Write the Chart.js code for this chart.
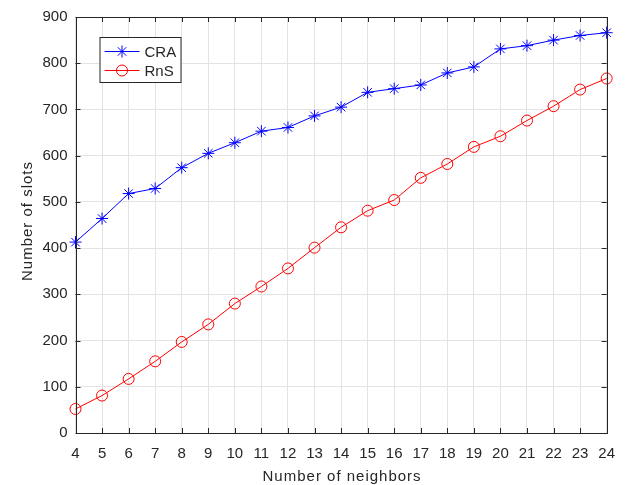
<!DOCTYPE html>
<html>
<head>
<meta charset="utf-8">
<script src="https://cdn.jsdelivr.net/npm/chart.js@4/dist/chart.umd.min.js"></script>
<style>
  html, body { margin: 0; padding: 0; background: #fff; }
  #wrap { width: 627px; height: 485px; }
</style>
</head>
<body>
<div id="wrap"><canvas id="slotsChart" width="627" height="485"></canvas></div>
<script>
// number of neighbors
const neighbors = [4, 5, 6, 7, 8, 9, 10, 11, 12, 13, 14, 15, 16, 17, 18, 19, 20, 21, 22, 23, 24];
// slots used by each scheme
const craSlots = [413, 464, 518, 529, 574, 605, 628, 653, 661, 686, 705, 737, 745, 753, 779, 792, 831, 838, 850, 860, 866];
const rnsSlots = [52, 81, 117, 155, 197, 235, 280, 317, 356, 401, 445, 481, 504, 552, 582, 619, 642, 676, 707, 743, 767];
const yTicks = [0, 100, 200, 300, 400, 500, 600, 700, 800, 900];
const xTitle = 'Number of neighbors';
const yTitle = 'Number of slots';

const axisColor = '#262626';
const fontFamily = '"Liberation Sans", Arial, Helvetica, sans-serif';

// box around the plot with inward tick marks on all four sides
const boxPlugin = {
    id: 'boxAxes',
    afterDatasetsDraw(chart) {
        const { ctx, chartArea: a, scales } = chart;
        const len = 5;
        ctx.save();
        ctx.strokeStyle = axisColor;
        ctx.lineWidth = 1;
        ctx.beginPath();
        scales.x.ticks.forEach((t, i) => {
            const px = Math.round(scales.x.getPixelForTick(i)) + 0.5;
            ctx.moveTo(px, a.bottom); ctx.lineTo(px, a.bottom - len);
            ctx.moveTo(px, a.top); ctx.lineTo(px, a.top + len);
        });
        scales.y.ticks.forEach(t => {
            const py = Math.round(scales.y.getPixelForValue(t.value)) + 0.5;
            ctx.moveTo(a.left, py); ctx.lineTo(a.left + len, py);
            ctx.moveTo(a.right, py); ctx.lineTo(a.right - len, py);
        });
        ctx.stroke();
        ctx.strokeRect(Math.round(a.left) + 0.5, Math.round(a.top) + 0.5,
            Math.round(a.right - a.left), Math.round(a.bottom - a.top));
        ctx.restore();
    }
};

// axis titles, drawn by hand so they can get a little letter spacing
const titlesPlugin = {
    id: 'axisTitles',
    afterDraw(chart) {
        const { ctx, chartArea: a } = chart;
        ctx.save();
        ctx.fillStyle = axisColor;
        ctx.font = '15px ' + fontFamily;
        ctx.letterSpacing = '1px';
        ctx.textAlign = 'center';
        ctx.textBaseline = 'alphabetic';
        ctx.fillText(xTitle, (a.left + a.right) / 2 + 1, a.bottom + 48);
        ctx.translate(a.left - 43.5, (a.top + a.bottom) / 2 - 4);
        ctx.rotate(-Math.PI / 2);
        ctx.fillText(yTitle, 0, 0);
        ctx.restore();
    }
};

// boxed legend sitting inside the plot, upper left
const legendPlugin = {
    id: 'innerLegend',
    afterDraw(chart) {
        const { ctx, chartArea: a } = chart;
        const x0 = a.left + 24, y0 = a.top + 20, w = 81, h = 45;
        ctx.save();
        ctx.fillStyle = '#fff';
        ctx.fillRect(x0, y0, w, h);
        ctx.strokeStyle = axisColor;
        ctx.lineWidth = 1;
        ctx.strokeRect(x0 + 0.5, y0 + 0.5, w, h);
        ctx.font = '15px ' + fontFamily;
        ctx.textBaseline = 'middle';
        chart.data.datasets.forEach((ds, i) => {
            const cy = y0 + 14.5 + i * 19;
            ctx.strokeStyle = ds.borderColor;
            ctx.lineWidth = 1;
            ctx.beginPath();
            ctx.moveTo(x0 + 5, cy); ctx.lineTo(x0 + 40, cy);
            ctx.stroke();
            ctx.fillStyle = 'rgba(0,0,0,0)';
            Chart.helpers.drawPoint(ctx, {
                pointStyle: ds.pointStyle, radius: ds.pointRadius,
                borderWidth: 1, rotation: 0
            }, x0 + 22.5, cy);
            ctx.fillStyle = axisColor;
            ctx.fillText(ds.label, x0 + 45, cy + 1);
        });
        ctx.restore();
    }
};

const ctx = document.getElementById('slotsChart').getContext('2d');
const slotsChart = new Chart(ctx, {
    type: 'line',
    data: {
        labels: neighbors.map(String),
        datasets: [{
            label: 'CRA',
            data: craSlots,
            borderColor: '#0000ff',
            backgroundColor: 'rgba(0,0,0,0)',
            borderWidth: 1,
            pointStyle: 'star',
            pointRadius: 6,
            pointBorderColor: '#0000ff',
            pointBorderWidth: 1,
            tension: 0
        }, {
            label: 'RnS',
            data: rnsSlots,
            borderColor: '#ff0000',
            backgroundColor: 'rgba(0,0,0,0)',
            borderWidth: 1,
            pointStyle: 'circle',
            pointRadius: 5.5,
            pointBorderColor: '#ff0000',
            pointBackgroundColor: 'rgba(0,0,0,0)',
            pointBorderWidth: 1,
            tension: 0
        }]
    },
    options: {
        responsive: false,
        animation: false,
        layout: { padding: { top: 14, right: 20, left: 0, bottom: 0 } },
        plugins: {
            legend: { display: false },
            tooltip: { enabled: false }
        },
        scales: {
            x: {
                type: 'category',
                offset: false,
                grid: { color: '#e3e3e3', drawTicks: false },
                border: { display: false },
                ticks: {
                    color: axisColor,
                    padding: 12,
                    maxRotation: 0,
                    autoSkip: false,
                    font: { family: fontFamily, size: 15 }
                },
                afterFit(scale) { scale.height = 52; }
            },
            y: {
                min: 0,
                max: 900,
                afterBuildTicks(scale) {
                    scale.ticks = yTicks.map(v => ({ value: v }));
                },
                grid: { color: '#e3e3e3', drawTicks: false },
                border: { display: false },
                ticks: {
                    color: axisColor,
                    padding: 8,
                    font: { family: fontFamily, size: 15 }
                },
                afterFit(scale) { scale.width = 75.5; }
            }
        }
    },
    plugins: [boxPlugin, titlesPlugin, legendPlugin]
});
</script>
</body>
</html>
